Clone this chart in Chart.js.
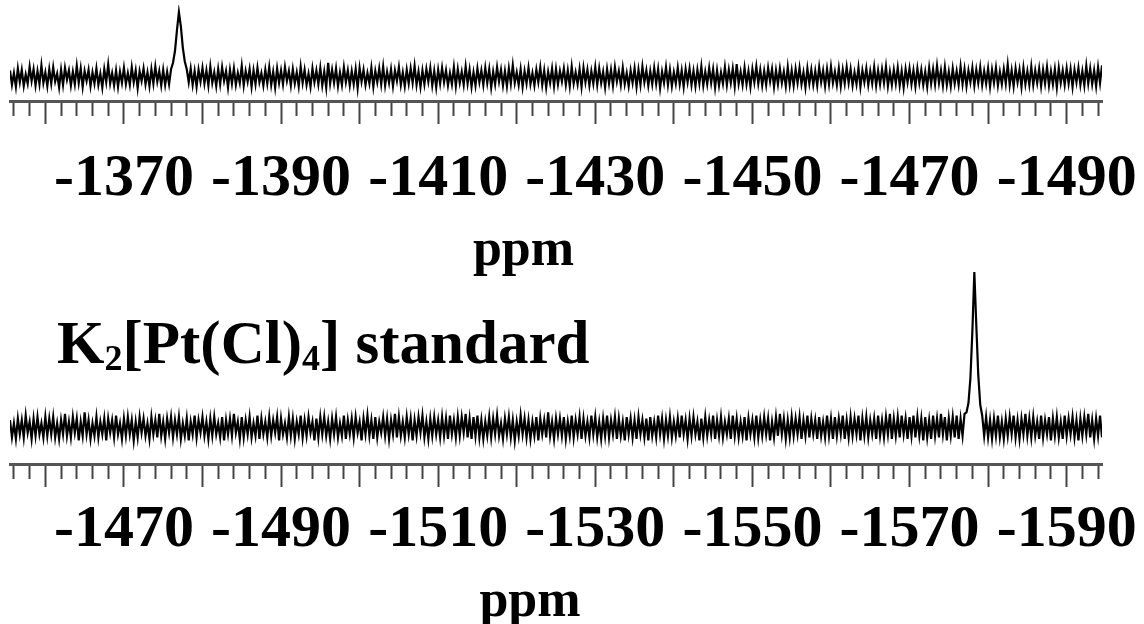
<!DOCTYPE html>
<html><head><meta charset="utf-8">
<script src="https://cdn.jsdelivr.net/npm/chart.js@4.4.1/dist/chart.umd.min.js"></script>
<style>
html,body{margin:0;padding:0;background:#fff;overflow:hidden;width:1144px;height:624px;}
.box{position:absolute;left:0;width:1144px;}
#c1{top:0;height:290px}
#c2{top:250px;height:384px}
#lbl{position:absolute;left:57px;top:312px;font:bold 61px "Liberation Serif","Times New Roman",serif;line-height:61px;white-space:nowrap;color:#000}
#lbl .s{font-size:36px;position:relative;top:7px}
</style></head><body>
<div class="box" id="c1"><canvas id="cv1"></canvas></div>
<div class="box" id="c2"><canvas id="cv2"></canvas></div>
<div id="lbl">K<span class="s">2</span>[Pt(Cl)<span class="s">4</span>] standard</div>
<script>
// ppm axis: uniformly sampled spectra (0.25 ppm per point)
const ppm_step = -0.25;
const top_ppm_start = -1355.5;
const bottom_ppm_start = -1455.5;
const axis_label_every = 20;   // labelled ticks
const major_every = 10;        // long ticks
const minor_every = 2;         // short ticks
const axis_title = 'ppm';
const series_label_top = 'sample';
const series_label_bottom = 'K2[Pt(Cl)4] standard';

// intensities (arbitrary units, peak = 100)
const top_intensity = [
10,-12,6,-15,13,-8,11,-14,4,-10,16,-6,12,-13,9,-11,18,-9,7,-14,
12,-10,15,-7,5,-16,11,-12,14,-4,10,-13,8,-11,17,-9,13,-15,9,-6,
11,-14,7,-10,13,-12,5,-16,12,-8,19,-10,6,-13,10,-15,8,-9,14,-11,
6,-12,15,-8,10,-17,9,-6,13,-11,7,-14,12,-10,16,-7,9,-13,11,-12,
8,-11,12,22,40,72,100,78,45,24,12,-8,13,-12,9,-15,11,-7,14,-10,
10,-13,16,-9,7,-14,12,-11,15,-6,9,-16,11,-10,13,-12,6,-9,17,-13,
9,-7,12,-15,10,-11,14,-8,6,-13,11,-10,15,-12,8,-16,13,-9,10,-11,
15,-6,9,-13,12,-10,7,-14,16,-9,11,-12,5,-15,13,-8,10,-11,14,-13,
8,-16,22,-10,11,-9,13,-14,7,-12,15,-8,10,-13,9,-11,12,-17,14,-7,
11,-12,6,-10,14,-15,9,-8,13,-11,16,-13,8,-9,12,-14,10,-6,15,-12,
7,-14,11,-10,13,-9,17,-12,8,-15,10,-11,12,-7,14,-13,9,-16,11,-10,
14,-8,10,-13,6,-11,15,-14,12,-9,8,-12,16,-10,11,-15,7,-13,13,-8,
10,-12,14,-9,12,-16,8,-11,15,-7,11,-13,9,-14,13,-10,18,-9,7,-12,
12,-15,9,-10,14,-11,6,-13,11,-8,15,-12,10,-16,8,-9,13,-14,12,-11,
9,-7,13,-12,10,-14,16,-10,7,-11,12,-15,14,-8,11,-13,9,-10,15,-12,
13,-9,8,-16,12,-10,11,-13,15,-7,9,-12,14,-11,6,-14,10,-9,13,-15,
11,-12,16,-8,10,-13,9,-11,14,-10,12,-17,8,-9,15,-12,11,-14,7,-10,
14,-11,10,-15,12,-8,13,-12,9,-14,11,-10,16,-13,8,-11,14,-9,12,-16,
10,-13,7,-10,15,-12,11,-9,13,-14,20,-10,8,-12,14,-11,9,-15,12,-8,
16,-10,11,-13,9,-12,14,-7,12,-15,10,-11,13,-9,8,-14,15,-12,10,-13,
12,-9,14,-11,7,-16,13,-10,11,-12,9,-13,15,-8,10,-14,12,-11,16,-9,
8,-12,13,-14,11,-10,15,-9,12,-13,7,-11,14,-15,10,-8,13,-12,9,-10,
15,-13,10,-11,12,-9,16,-14,8,-12,11,-10,14,-13,9,-16,12,-8,13,-11,
10,-14,13,-9,11,-12,8,-15,14,-10,12,-11,17,-9,10,-13,15,-12,8,-14,
13,-10,9,-12,16,-11,12,-14,10,-8,14,-13,11,-9,15,-12,9,-10,13,-15,
11,-9,14,-13,8,-11,12,-10,19,-12,10,-14,13,-8,11,-15,14,-11,9,-12,
16,-12,10,-9,13,-14,11,-10,15,-13,9,-11,12,-16,14,-9,10,-12,13,-10,
12,-15,11,-8,14,-12,9,-13,17,-10,13,-11,10,-14,15,-9,18
];
const bottom_intensity = [
5,-6,3,-7,6,-4,5,-6,8,-3,4,-7,6,-5,7,-4,3,-6,7,-5,
6,-4,7,-6,3,-7,5,-4,9,-5,4,-6,7,-3,6,-8,4,-5,10,-4,
5,-7,3,-5,7,-6,4,-4,6,-8,6,-3,5,-6,8,-4,3,-7,6,-5,
7,-4,5,-8,4,-6,7,-3,6,-5,3,-7,7,-4,5,-6,9,-5,4,-7,
6,-3,7,-6,5,-4,7,-7,3,-5,6,-8,4,-4,8,-6,5,-3,7,-5,
4,-7,6,-5,7,-4,3,-6,7,-8,5,-4,6,-5,9,-3,4,-7,7,-6,
5,-4,7,-6,3,-5,8,-7,6,-4,4,-6,7,-5,5,-3,7,-8,6,-4,
3,-6,7,-5,6,-7,4,-4,8,-6,5,-5,7,-3,4,-8,6,-6,7,-4,
7,-5,4,-7,6,-4,7,-6,3,-5,8,-7,5,-4,6,-6,7,-3,4,-8,
6,-4,8,-5,5,-7,7,-6,4,-3,7,-5,6,-7,5,-4,9,-6,7,-5,
4,-6,7,-4,6,-8,5,-5,7,-3,8,-6,4,-7,6,-5,7,-4,5,-6,
7,-5,6,-7,8,-4,5,-6,7,-5,7,-3,9,-6,6,-7,7,-5,8,-6,
5,-7,4,-5,7,-6,6,-4,8,-5,3,-7,6,-4,7,-6,5,-8,4,-5,
8,-4,6,-6,5,-7,4,-5,7,-8,6,-4,5,-6,10,-5,4,-7,6,-4,
6,-5,7,-7,4,-5,8,-6,5,-4,7,-7,6,-5,4,-6,8,-4,7,-6,
4,-7,6,-5,8,-6,5,-4,7,-7,6,-5,4,-8,7,-4,6,-6,5,-7,
7,-4,5,-6,6,-8,7,-5,4,-6,8,-4,6,-7,5,-5,7,-6,4,-5,
6,-6,8,-4,5,-7,6,-5,7,-4,4,-8,6,-6,7,-5,5,-4,8,-7,
5,-5,7,-6,4,-4,6,-7,8,-5,6,-6,4,-5,7,-8,6,-4,5,-6,
8,-6,5,-5,7,-4,6,-8,4,-6,7,-5,9,-4,6,-7,5,-6,7,-5,
6,-4,7,-7,5,-5,8,-6,6,-4,5,-7,7,-5,4,-6,8,-5,6,-7,
7,-5,6,-4,8,-7,5,-6,7,-5,6,-4,8,-8,6,-5,7,-6,5,-4,
6,-7,8,-5,5,-6,7,-4,9,-7,6,-5,7,-6,8,-4,6,-7,7,-5,
8,-6,7,-5,6,-8,7,-6,5,-7,8,-5,6,-6,9,-4,7,-8,6,-5,
7,-6,8,-7,6,-5,9,10,16,32,62,100,66,34,15,8,-5,7,-6,5,
-7,6,-5,8,-6,4,-7,6,-5,7,-4,8,-6,5,-7,6,-4,9,-5,6,
-6,7,-5,4,-7,8,-6,5,-4,7,-8,6,-5,7,-6,4,-7,8,-5,6,
-4,7,-6,5,-8,6,-5,7,-4,9,-6,5,-7,6,-5,8,-6
];

const FONT = "'Liberation Serif','Times New Roman',serif";

function makeChart(id, label, ppmStart, intensity, yMin, yMax, scaleH, tickPad, titlePadBottom, titleText) {
  const pts = intensity.map((v, i) => ({x: ppmStart + i * ppm_step, y: v}));
  const xMax = ppmStart;
  const xMin = ppmStart + (intensity.length - 1) * ppm_step;
  return new Chart(document.getElementById(id), {
    type: 'line',
    data: { datasets: [{
      label: label,
      data: pts,
      borderColor: '#000',
      borderWidth: 2.2,
      pointRadius: 0,
      tension: 0,
      fill: false
    }]},
    options: {
      responsive: true,
      maintainAspectRatio: false,
      animation: false,
      events: [],
      layout: { padding: { left: 10, right: 42, top: 5, bottom: 0 } },
      plugins: { legend: { display: false }, tooltip: { enabled: false } },
      scales: {
        y: { display: false, min: yMin, max: yMax },
        x: {
          type: 'linear',
          reverse: true,
          min: xMin,
          max: xMax,
          offset: false,
          afterFit: (s) => { s.height = scaleH; s.paddingLeft = 0; s.paddingRight = 0; },
          border: { display: true, color: '#555', width: 3 },
          grid: {
            drawOnChartArea: false,
            drawTicks: true,
            tickLength: 23,
            tickColor: '#444',
            tickWidth: 2,
            tickBorderDash: (ctx) => {
              const v = ctx.tick ? Math.round(ctx.tick.value) : 0;
              return (v % major_every === 0) ? [] : [13, 40];
            }
          },
          ticks: {
            stepSize: minor_every,
            autoSkip: false,
            includeBounds: false,
            maxRotation: 0,
            minRotation: 0,
            padding: tickPad,
            color: '#000',
            font: { family: FONT, size: 60, weight: 'bold' },
            callback: (v) => {
              const r = Math.round(v);
              return (Math.abs(r % axis_label_every) === axis_label_every / 2) ? String(r) : '';
            }
          },
          title: {
            display: true,
            text: titleText,
            color: '#000',
            font: { family: FONT, size: 52, weight: 'bold' },
            padding: { top: 0, bottom: titlePadBottom }
          }
        }
      }
    }
  });
}

makeChart('cv1', series_label_top, top_ppm_start, top_intensity, -37, 111, 189, 19, 7, axis_title + '     ');
makeChart('cv2', series_label_bottom, bottom_ppm_start, bottom_intensity, -23.1, 110.9, 170, 7, 0, axis_title + '    ');
</script>
</body></html>
